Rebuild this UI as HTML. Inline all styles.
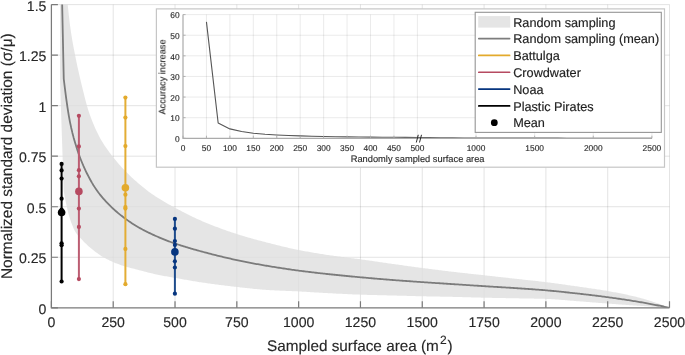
<!DOCTYPE html><html><head><meta charset="utf-8"><style>html,body{margin:0;padding:0;background:#fff;}svg{display:block;}text{font-family:"Liberation Sans",sans-serif;fill:#262626;}svg{will-change:transform;}text{text-rendering:geometricPrecision;stroke-width:0.14px;}</style></head><body>
<svg width="685" height="355" viewBox="0 0 685 355">
<defs><clipPath id="cp"><rect x="51.4" y="4.6" width="618.1" height="303.2"/></clipPath>
</defs>
<path d="M113.21 4.6V307.8 M175.02 4.6V307.8 M236.83 4.6V307.8 M298.64 4.6V307.8 M360.45 4.6V307.8 M422.26 4.6V307.8 M484.07 4.6V307.8 M545.88 4.6V307.8 M607.69 4.6V307.8 M669.5 4.6V307.8 M51.4 257.27H669.5 M51.4 206.73H669.5 M51.4 156.2H669.5 M51.4 105.67H669.5 M51.4 55.13H669.5 M51.4 4.6H669.5" stroke="rgba(38,38,38,0.125)" stroke-width="1" fill="none"/>
<g clip-path="url(#cp)"><polygon points="60.05,-702.87 63.76,-45.93 65,-28.77 66.23,-12.82 67.47,1.61 68.71,14.25 69.94,24.81 71.18,33.54 72.42,41.1 73.65,47.83 74.89,54.07 76.12,60.19 77.36,66.16 78.6,71.82 79.83,77.21 81.07,82.41 82.31,87.47 83.54,92.5 84.78,97.44 86.01,102.2 87.25,106.66 88.49,110.72 89.72,114.39 90.96,117.8 92.19,121 93.43,124.01 94.67,126.89 95.9,129.66 97.14,132.32 98.38,134.84 99.61,137.21 100.85,139.42 102.08,141.5 103.32,143.48 104.56,145.39 105.79,147.23 107.03,149 108.27,150.72 109.5,152.39 110.74,154.02 111.97,155.63 113.21,157.21 114.45,158.77 115.68,160.29 116.92,161.78 118.15,163.24 119.39,164.67 120.63,166.06 121.86,167.43 123.1,168.77 124.34,170.08 125.57,171.36 126.81,172.62 128.04,173.84 129.28,175.04 130.52,176.22 131.75,177.38 132.99,178.51 134.23,179.63 135.46,180.73 136.7,181.81 137.93,182.88 139.17,183.94 140.41,184.99 141.64,186.03 142.88,187.05 144.12,188.05 145.35,189.04 146.59,190.01 147.82,190.96 149.06,191.88 150.3,192.79 151.53,193.67 152.77,194.53 154,195.37 155.24,196.2 156.48,197.01 157.71,197.81 158.95,198.59 160.19,199.36 161.42,200.12 162.66,200.87 163.89,201.61 165.13,202.33 166.37,203.04 167.6,203.73 168.84,204.42 170.08,205.1 171.31,205.77 172.55,206.43 173.78,207.09 175.02,207.74 176.26,208.4 177.49,209.05 178.73,209.71 179.96,210.36 181.2,211.01 182.44,211.66 183.67,212.3 184.91,212.94 186.15,213.58 187.38,214.21 188.62,214.83 189.85,215.45 191.09,216.06 192.33,216.66 193.56,217.26 194.8,217.84 196.04,218.42 197.27,218.98 198.51,219.53 199.74,220.07 200.98,220.61 202.22,221.13 203.45,221.66 204.69,222.18 205.93,222.69 207.16,223.2 208.4,223.7 209.63,224.2 210.87,224.7 212.11,225.19 213.34,225.67 214.58,226.15 215.81,226.63 217.05,227.1 218.29,227.57 219.52,228.03 220.76,228.49 222,228.94 223.23,229.39 224.47,229.83 225.7,230.27 226.94,230.71 228.18,231.14 229.41,231.56 230.65,231.98 231.89,232.4 233.12,232.81 234.36,233.22 235.59,233.62 236.83,234.02 238.07,234.41 239.3,234.8 240.54,235.19 241.77,235.57 243.01,235.94 244.25,236.31 245.48,236.67 246.72,237.04 247.96,237.39 249.19,237.75 250.43,238.1 251.66,238.44 252.9,238.79 254.14,239.13 255.37,239.46 256.61,239.8 257.85,240.13 259.08,240.46 260.32,240.79 261.55,241.11 262.79,241.44 264.03,241.76 265.26,242.08 266.5,242.4 267.74,242.71 268.97,243.03 270.21,243.35 271.44,243.66 272.68,243.98 273.92,244.29 275.15,244.6 276.39,244.91 277.62,245.22 278.86,245.53 280.1,245.83 281.33,246.13 282.57,246.43 283.81,246.73 285.04,247.02 286.28,247.31 287.51,247.6 288.75,247.88 289.99,248.16 291.22,248.43 292.46,248.71 293.7,248.97 294.93,249.23 296.17,249.49 297.4,249.74 298.64,249.99 299.88,250.23 301.11,250.47 302.35,250.71 303.58,250.94 304.82,251.17 306.06,251.4 307.29,251.62 308.53,251.84 309.77,252.06 311,252.28 312.24,252.49 313.47,252.7 314.71,252.91 315.95,253.12 317.18,253.32 318.42,253.52 319.66,253.72 320.89,253.92 322.13,254.12 323.36,254.31 324.6,254.5 325.84,254.69 327.07,254.88 328.31,255.06 329.54,255.25 330.78,255.43 332.02,255.6 333.25,255.78 334.49,255.95 335.73,256.12 336.96,256.28 338.2,256.44 339.43,256.6 340.67,256.76 341.91,256.92 343.14,257.08 344.38,257.23 345.62,257.39 346.85,257.54 348.09,257.69 349.32,257.85 350.56,258 351.8,258.16 353.03,258.31 354.27,258.47 355.51,258.63 356.74,258.79 357.98,258.95 359.21,259.12 360.45,259.29 361.69,259.46 362.92,259.63 364.16,259.8 365.39,259.98 366.63,260.15 367.87,260.33 369.1,260.51 370.34,260.69 371.58,260.87 372.81,261.05 374.05,261.23 375.28,261.41 376.52,261.59 377.76,261.77 378.99,261.95 380.23,262.13 381.47,262.31 382.7,262.49 383.94,262.67 385.17,262.85 386.41,263.03 387.65,263.21 388.88,263.38 390.12,263.56 391.35,263.73 392.59,263.91 393.83,264.08 395.06,264.26 396.3,264.43 397.54,264.6 398.77,264.78 400.01,264.95 401.24,265.12 402.48,265.3 403.72,265.47 404.95,265.64 406.19,265.81 407.43,265.98 408.66,266.15 409.9,266.32 411.13,266.49 412.37,266.66 413.61,266.83 414.84,266.99 416.08,267.16 417.32,267.33 418.55,267.49 419.79,267.66 421.02,267.82 422.26,267.98 423.5,268.14 424.73,268.3 425.97,268.46 427.2,268.62 428.44,268.78 429.68,268.94 430.91,269.09 432.15,269.25 433.39,269.41 434.62,269.56 435.86,269.72 437.09,269.87 438.33,270.03 439.57,270.18 440.8,270.33 442.04,270.49 443.28,270.64 444.51,270.79 445.75,270.94 446.98,271.09 448.22,271.23 449.46,271.38 450.69,271.53 451.93,271.67 453.16,271.82 454.4,271.96 455.64,272.11 456.87,272.25 458.11,272.39 459.35,272.53 460.58,272.67 461.82,272.81 463.05,272.95 464.29,273.09 465.53,273.22 466.76,273.36 468,273.49 469.24,273.63 470.47,273.77 471.71,273.9 472.94,274.04 474.18,274.17 475.42,274.31 476.65,274.44 477.89,274.58 479.13,274.71 480.36,274.85 481.6,274.98 482.83,275.12 484.07,275.26 485.31,275.39 486.54,275.53 487.78,275.67 489.01,275.81 490.25,275.94 491.49,276.08 492.72,276.22 493.96,276.36 495.2,276.49 496.43,276.63 497.67,276.77 498.9,276.91 500.14,277.04 501.38,277.18 502.61,277.32 503.85,277.46 505.09,277.59 506.32,277.73 507.56,277.87 508.79,278.01 510.03,278.14 511.27,278.28 512.5,278.42 513.74,278.56 514.98,278.69 516.21,278.83 517.45,278.97 518.68,279.1 519.92,279.23 521.16,279.37 522.39,279.5 523.63,279.63 524.86,279.77 526.1,279.9 527.34,280.03 528.57,280.17 529.81,280.3 531.05,280.43 532.28,280.57 533.52,280.7 534.75,280.84 535.99,280.98 537.23,281.11 538.46,281.25 539.7,281.4 540.94,281.54 542.17,281.68 543.41,281.83 544.64,281.98 545.88,282.13 547.12,282.28 548.35,282.44 549.59,282.59 550.82,282.75 552.06,282.91 553.3,283.08 554.53,283.24 555.77,283.41 557.01,283.58 558.24,283.74 559.48,283.91 560.71,284.09 561.95,284.26 563.19,284.43 564.42,284.61 565.66,284.78 566.9,284.96 568.13,285.13 569.37,285.31 570.6,285.49 571.84,285.66 573.08,285.84 574.31,286.02 575.55,286.2 576.78,286.37 578.02,286.55 579.26,286.73 580.49,286.9 581.73,287.08 582.97,287.25 584.2,287.43 585.44,287.6 586.67,287.78 587.91,287.95 589.15,288.13 590.38,288.31 591.62,288.49 592.86,288.67 594.09,288.85 595.33,289.03 596.56,289.22 597.8,289.41 599.04,289.6 600.27,289.79 601.51,289.99 602.75,290.19 603.98,290.39 605.22,290.6 606.45,290.81 607.69,291.02 608.93,291.24 610.16,291.46 611.4,291.68 612.63,291.91 613.87,292.13 615.11,292.36 616.34,292.6 617.58,292.83 618.82,293.07 620.05,293.32 621.29,293.56 622.52,293.81 623.76,294.07 625,294.33 626.23,294.59 627.47,294.86 628.71,295.13 629.94,295.41 631.18,295.69 632.41,295.97 633.65,296.27 634.89,296.56 636.12,296.87 637.36,297.18 638.6,297.49 639.83,297.81 641.07,298.14 642.3,298.48 643.54,298.83 644.78,299.19 646.01,299.55 647.25,299.93 648.48,300.31 649.72,300.7 650.96,301.09 652.19,301.49 653.43,301.9 654.67,302.32 655.9,302.74 657.14,303.17 658.37,303.61 659.61,304.05 660.85,304.5 662.08,304.96 663.32,305.42 664.56,305.88 665.79,306.35 667.03,306.83 668.26,307.31 669.5,307.8 669.5,307.8 668.26,307.72 667.03,307.65 665.79,307.57 664.56,307.49 663.32,307.41 662.08,307.33 660.85,307.25 659.61,307.17 658.37,307.1 657.14,307.02 655.9,306.93 654.67,306.85 653.43,306.77 652.19,306.69 650.96,306.61 649.72,306.53 648.48,306.45 647.25,306.36 646.01,306.28 644.78,306.2 643.54,306.12 642.3,306.03 641.07,305.95 639.83,305.86 638.6,305.78 637.36,305.69 636.12,305.61 634.89,305.52 633.65,305.44 632.41,305.35 631.18,305.26 629.94,305.18 628.71,305.09 627.47,305 626.23,304.91 625,304.83 623.76,304.74 622.52,304.65 621.29,304.56 620.05,304.47 618.82,304.38 617.58,304.29 616.34,304.2 615.11,304.11 613.87,304.02 612.63,303.92 611.4,303.83 610.16,303.74 608.93,303.65 607.69,303.56 606.45,303.46 605.22,303.37 603.98,303.27 602.75,303.18 601.51,303.08 600.27,302.98 599.04,302.89 597.8,302.79 596.56,302.69 595.33,302.59 594.09,302.49 592.86,302.39 591.62,302.29 590.38,302.19 589.15,302.09 587.91,302 586.67,301.9 585.44,301.8 584.2,301.7 582.97,301.6 581.73,301.51 580.49,301.41 579.26,301.32 578.02,301.22 576.78,301.13 575.55,301.04 574.31,300.94 573.08,300.84 571.84,300.74 570.6,300.63 569.37,300.53 568.13,300.42 566.9,300.32 565.66,300.21 564.42,300.1 563.19,300 561.95,299.9 560.71,299.8 559.48,299.7 558.24,299.6 557.01,299.51 555.77,299.42 554.53,299.34 553.3,299.26 552.06,299.19 550.82,299.12 549.59,299.05 548.35,299 547.12,298.95 545.88,298.91 544.64,298.87 543.41,298.83 542.17,298.8 540.94,298.77 539.7,298.74 538.46,298.71 537.23,298.69 535.99,298.66 534.75,298.64 533.52,298.61 532.28,298.59 531.05,298.57 529.81,298.55 528.57,298.53 527.34,298.51 526.1,298.49 524.86,298.47 523.63,298.45 522.39,298.43 521.16,298.41 519.92,298.39 518.68,298.37 517.45,298.35 516.21,298.32 514.98,298.3 513.74,298.28 512.5,298.25 511.27,298.23 510.03,298.2 508.79,298.18 507.56,298.16 506.32,298.13 505.09,298.11 503.85,298.09 502.61,298.07 501.38,298.04 500.14,298.02 498.9,298 497.67,297.97 496.43,297.95 495.2,297.92 493.96,297.9 492.72,297.88 491.49,297.85 490.25,297.83 489.01,297.8 487.78,297.77 486.54,297.75 485.31,297.72 484.07,297.69 482.83,297.67 481.6,297.64 480.36,297.61 479.13,297.57 477.89,297.54 476.65,297.51 475.42,297.48 474.18,297.44 472.94,297.41 471.71,297.38 470.47,297.34 469.24,297.31 468,297.27 466.76,297.24 465.53,297.2 464.29,297.17 463.05,297.13 461.82,297.1 460.58,297.07 459.35,297.04 458.11,297 456.87,296.97 455.64,296.94 454.4,296.91 453.16,296.88 451.93,296.86 450.69,296.83 449.46,296.81 448.22,296.78 446.98,296.76 445.75,296.73 444.51,296.71 443.28,296.68 442.04,296.66 440.8,296.64 439.57,296.62 438.33,296.59 437.09,296.57 435.86,296.55 434.62,296.53 433.39,296.5 432.15,296.48 430.91,296.46 429.68,296.43 428.44,296.41 427.2,296.38 425.97,296.36 424.73,296.33 423.5,296.31 422.26,296.28 421.02,296.25 419.79,296.22 418.55,296.19 417.32,296.16 416.08,296.13 414.84,296.1 413.61,296.07 412.37,296.04 411.13,296 409.9,295.97 408.66,295.94 407.43,295.91 406.19,295.87 404.95,295.84 403.72,295.8 402.48,295.77 401.24,295.74 400.01,295.7 398.77,295.67 397.54,295.64 396.3,295.6 395.06,295.57 393.83,295.54 392.59,295.5 391.35,295.47 390.12,295.44 388.88,295.41 387.65,295.38 386.41,295.35 385.17,295.32 383.94,295.29 382.7,295.26 381.47,295.23 380.23,295.2 378.99,295.17 377.76,295.14 376.52,295.11 375.28,295.08 374.05,295.05 372.81,295.02 371.58,294.98 370.34,294.95 369.1,294.92 367.87,294.89 366.63,294.85 365.39,294.82 364.16,294.78 362.92,294.74 361.69,294.7 360.45,294.66 359.21,294.62 357.98,294.58 356.74,294.53 355.51,294.48 354.27,294.43 353.03,294.38 351.8,294.33 350.56,294.28 349.32,294.22 348.09,294.17 346.85,294.11 345.62,294.05 344.38,293.99 343.14,293.94 341.91,293.87 340.67,293.81 339.43,293.75 338.2,293.69 336.96,293.63 335.73,293.56 334.49,293.5 333.25,293.44 332.02,293.37 330.78,293.31 329.54,293.25 328.31,293.18 327.07,293.11 325.84,293.05 324.6,292.98 323.36,292.9 322.13,292.83 320.89,292.76 319.66,292.68 318.42,292.61 317.18,292.53 315.95,292.45 314.71,292.38 313.47,292.3 312.24,292.22 311,292.14 309.77,292.07 308.53,291.99 307.29,291.92 306.06,291.84 304.82,291.77 303.58,291.7 302.35,291.63 301.11,291.56 299.88,291.49 298.64,291.43 297.4,291.36 296.17,291.31 294.93,291.25 293.7,291.19 292.46,291.14 291.22,291.09 289.99,291.03 288.75,290.98 287.51,290.93 286.28,290.89 285.04,290.84 283.81,290.79 282.57,290.74 281.33,290.69 280.1,290.64 278.86,290.58 277.62,290.53 276.39,290.47 275.15,290.42 273.92,290.36 272.68,290.29 271.44,290.23 270.21,290.16 268.97,290.09 267.74,290.01 266.5,289.93 265.26,289.85 264.03,289.76 262.79,289.66 261.55,289.56 260.32,289.46 259.08,289.35 257.85,289.23 256.61,289.12 255.37,289 254.14,288.88 252.9,288.75 251.66,288.62 250.43,288.49 249.19,288.36 247.96,288.22 246.72,288.09 245.48,287.95 244.25,287.81 243.01,287.68 241.77,287.54 240.54,287.4 239.3,287.26 238.07,287.12 236.83,286.98 235.59,286.84 234.36,286.7 233.12,286.56 231.89,286.42 230.65,286.27 229.41,286.12 228.18,285.98 226.94,285.83 225.7,285.67 224.47,285.52 223.23,285.37 222,285.21 220.76,285.05 219.52,284.89 218.29,284.73 217.05,284.57 215.81,284.41 214.58,284.24 213.34,284.07 212.11,283.9 210.87,283.73 209.63,283.56 208.4,283.39 207.16,283.21 205.93,283.04 204.69,282.86 203.45,282.68 202.22,282.5 200.98,282.31 199.74,282.13 198.51,281.94 197.27,281.75 196.04,281.55 194.8,281.35 193.56,281.15 192.33,280.94 191.09,280.73 189.85,280.52 188.62,280.3 187.38,280.09 186.15,279.87 184.91,279.65 183.67,279.43 182.44,279.21 181.2,278.99 179.96,278.76 178.73,278.54 177.49,278.32 176.26,278.1 175.02,277.88 173.78,277.67 172.55,277.45 171.31,277.24 170.08,277.02 168.84,276.8 167.6,276.58 166.37,276.36 165.13,276.13 163.89,275.9 162.66,275.66 161.42,275.42 160.19,275.17 158.95,274.92 157.71,274.67 156.48,274.41 155.24,274.14 154,273.88 152.77,273.6 151.53,273.32 150.3,273.03 149.06,272.74 147.82,272.43 146.59,272.11 145.35,271.79 144.12,271.46 142.88,271.12 141.64,270.79 140.41,270.46 139.17,270.13 137.93,269.8 136.7,269.48 135.46,269.17 134.23,268.86 132.99,268.55 131.75,268.25 130.52,267.93 129.28,267.61 128.04,267.28 126.81,266.93 125.57,266.56 124.34,266.18 123.1,265.79 121.86,265.39 120.63,264.97 119.39,264.53 118.15,264.08 116.92,263.62 115.68,263.14 114.45,262.64 113.21,262.12 111.97,261.58 110.74,261.01 109.5,260.43 108.27,259.81 107.03,259.18 105.79,258.52 104.56,257.84 103.32,257.13 102.08,256.4 100.85,255.65 99.61,254.85 98.38,253.99 97.14,253.08 95.9,252.15 94.67,251.2 93.43,250.25 92.19,249.27 90.96,248.27 89.72,247.23 88.49,246.15 87.25,245.02 86.01,243.85 84.78,242.63 83.54,241.38 82.31,240.09 81.07,238.82 79.83,237.56 78.6,236.23 77.36,234.74 76.12,233.01 74.89,230.93 73.65,228.46 72.42,225.62 71.18,222.42 69.94,218.86 68.71,214.72 67.47,209.82 66.23,204.27 65,198.15 63.76,191.57 60.05,81.41" fill="#dedede" fill-opacity="0.8"/></g>
<g clip-path="url(#cp)"><polyline points="57.58,-209.66 63.76,78.99 65,89.13 66.23,98.6 67.47,107.3 68.71,115.08 69.94,121.84 71.18,127.68 72.42,132.91 73.65,137.63 74.89,141.99 76.12,146.09 77.36,149.98 78.6,153.61 79.83,157.01 81.07,160.23 82.31,163.27 83.54,166.17 84.78,168.91 86.01,171.52 87.25,174.01 88.49,176.41 89.72,178.74 90.96,180.97 92.19,183.12 93.43,185.18 94.67,187.13 95.9,188.98 97.14,190.76 98.38,192.46 99.61,194.07 100.85,195.62 102.08,197.1 103.32,198.54 104.56,199.94 105.79,201.31 107.03,202.64 108.27,203.93 109.5,205.18 110.74,206.41 111.97,207.6 113.21,208.75 114.45,209.88 115.68,210.98 116.92,212.05 118.15,213.09 119.39,214.11 120.63,215.11 121.86,216.08 123.1,217.03 124.34,217.95 125.57,218.86 126.81,219.75 128.04,220.62 129.28,221.48 130.52,222.31 131.75,223.13 132.99,223.93 134.23,224.71 135.46,225.47 136.7,226.22 137.93,226.95 139.17,227.66 140.41,228.35 141.64,229.03 142.88,229.69 144.12,230.34 145.35,230.98 146.59,231.6 147.82,232.21 149.06,232.82 150.3,233.41 151.53,234 152.77,234.58 154,235.15 155.24,235.71 156.48,236.26 157.71,236.8 158.95,237.33 160.19,237.85 161.42,238.37 162.66,238.87 163.89,239.37 165.13,239.86 166.37,240.35 167.6,240.83 168.84,241.3 170.08,241.76 171.31,242.22 172.55,242.66 173.78,243.1 175.02,243.52 176.26,243.94 177.49,244.35 178.73,244.76 179.96,245.16 181.2,245.55 182.44,245.95 183.67,246.33 184.91,246.72 186.15,247.09 187.38,247.47 188.62,247.84 189.85,248.2 191.09,248.56 192.33,248.92 193.56,249.28 194.8,249.63 196.04,249.98 197.27,250.32 198.51,250.66 199.74,251 200.98,251.34 202.22,251.67 203.45,252 204.69,252.33 205.93,252.66 207.16,252.99 208.4,253.31 209.63,253.63 210.87,253.95 212.11,254.27 213.34,254.59 214.58,254.9 215.81,255.21 217.05,255.52 218.29,255.83 219.52,256.13 220.76,256.43 222,256.73 223.23,257.02 224.47,257.32 225.7,257.61 226.94,257.9 228.18,258.18 229.41,258.46 230.65,258.74 231.89,259.02 233.12,259.29 234.36,259.56 235.59,259.83 236.83,260.1 238.07,260.36 239.3,260.62 240.54,260.88 241.77,261.13 243.01,261.38 244.25,261.63 245.48,261.88 246.72,262.13 247.96,262.37 249.19,262.61 250.43,262.85 251.66,263.09 252.9,263.32 254.14,263.55 255.37,263.78 256.61,264.01 257.85,264.23 259.08,264.46 260.32,264.68 261.55,264.9 262.79,265.11 264.03,265.33 265.26,265.54 266.5,265.75 267.74,265.96 268.97,266.17 270.21,266.37 271.44,266.57 272.68,266.78 273.92,266.98 275.15,267.17 276.39,267.37 277.62,267.56 278.86,267.76 280.1,267.95 281.33,268.14 282.57,268.33 283.81,268.51 285.04,268.7 286.28,268.88 287.51,269.06 288.75,269.24 289.99,269.42 291.22,269.59 292.46,269.77 293.7,269.94 294.93,270.11 296.17,270.28 297.4,270.44 298.64,270.61 299.88,270.77 301.11,270.93 302.35,271.09 303.58,271.25 304.82,271.4 306.06,271.56 307.29,271.71 308.53,271.86 309.77,272.01 311,272.16 312.24,272.31 313.47,272.45 314.71,272.6 315.95,272.74 317.18,272.88 318.42,273.02 319.66,273.16 320.89,273.3 322.13,273.44 323.36,273.57 324.6,273.71 325.84,273.85 327.07,273.98 328.31,274.11 329.54,274.25 330.78,274.38 332.02,274.51 333.25,274.64 334.49,274.77 335.73,274.89 336.96,275.02 338.2,275.15 339.43,275.27 340.67,275.4 341.91,275.52 343.14,275.64 344.38,275.76 345.62,275.88 346.85,276 348.09,276.12 349.32,276.24 350.56,276.36 351.8,276.48 353.03,276.59 354.27,276.71 355.51,276.82 356.74,276.94 357.98,277.05 359.21,277.16 360.45,277.28 361.69,277.39 362.92,277.5 364.16,277.61 365.39,277.72 366.63,277.83 367.87,277.94 369.1,278.05 370.34,278.16 371.58,278.27 372.81,278.38 374.05,278.48 375.28,278.59 376.52,278.7 377.76,278.8 378.99,278.9 380.23,279.01 381.47,279.11 382.7,279.21 383.94,279.31 385.17,279.41 386.41,279.51 387.65,279.61 388.88,279.71 390.12,279.81 391.35,279.91 392.59,280 393.83,280.1 395.06,280.19 396.3,280.28 397.54,280.38 398.77,280.47 400.01,280.56 401.24,280.65 402.48,280.74 403.72,280.83 404.95,280.92 406.19,281.01 407.43,281.1 408.66,281.19 409.9,281.27 411.13,281.36 412.37,281.45 413.61,281.53 414.84,281.62 416.08,281.7 417.32,281.79 418.55,281.87 419.79,281.96 421.02,282.04 422.26,282.13 423.5,282.21 424.73,282.3 425.97,282.38 427.2,282.46 428.44,282.55 429.68,282.63 430.91,282.71 432.15,282.79 433.39,282.87 434.62,282.95 435.86,283.03 437.09,283.11 438.33,283.19 439.57,283.27 440.8,283.35 442.04,283.43 443.28,283.51 444.51,283.59 445.75,283.67 446.98,283.75 448.22,283.83 449.46,283.91 450.69,283.99 451.93,284.07 453.16,284.15 454.4,284.23 455.64,284.31 456.87,284.39 458.11,284.47 459.35,284.56 460.58,284.64 461.82,284.72 463.05,284.8 464.29,284.88 465.53,284.96 466.76,285.05 468,285.13 469.24,285.21 470.47,285.29 471.71,285.37 472.94,285.45 474.18,285.53 475.42,285.61 476.65,285.69 477.89,285.77 479.13,285.85 480.36,285.93 481.6,286.01 482.83,286.09 484.07,286.17 485.31,286.25 486.54,286.33 487.78,286.4 489.01,286.48 490.25,286.56 491.49,286.63 492.72,286.71 493.96,286.78 495.2,286.86 496.43,286.93 497.67,287.01 498.9,287.08 500.14,287.16 501.38,287.23 502.61,287.31 503.85,287.38 505.09,287.46 506.32,287.54 507.56,287.61 508.79,287.69 510.03,287.77 511.27,287.85 512.5,287.93 513.74,288.01 514.98,288.09 516.21,288.17 517.45,288.26 518.68,288.34 519.92,288.42 521.16,288.5 522.39,288.59 523.63,288.67 524.86,288.75 526.1,288.84 527.34,288.92 528.57,289.01 529.81,289.09 531.05,289.18 532.28,289.27 533.52,289.36 534.75,289.45 535.99,289.54 537.23,289.63 538.46,289.72 539.7,289.82 540.94,289.91 542.17,290.01 543.41,290.11 544.64,290.21 545.88,290.32 547.12,290.42 548.35,290.53 549.59,290.64 550.82,290.75 552.06,290.87 553.3,290.98 554.53,291.1 555.77,291.22 557.01,291.34 558.24,291.47 559.48,291.59 560.71,291.72 561.95,291.85 563.19,291.97 564.42,292.1 565.66,292.24 566.9,292.37 568.13,292.5 569.37,292.63 570.6,292.77 571.84,292.9 573.08,293.04 574.31,293.18 575.55,293.31 576.78,293.45 578.02,293.59 579.26,293.72 580.49,293.86 581.73,294 582.97,294.14 584.2,294.28 585.44,294.42 586.67,294.57 587.91,294.71 589.15,294.86 590.38,295 591.62,295.15 592.86,295.3 594.09,295.45 595.33,295.6 596.56,295.75 597.8,295.91 599.04,296.06 600.27,296.22 601.51,296.38 602.75,296.54 603.98,296.7 605.22,296.86 606.45,297.02 607.69,297.19 608.93,297.35 610.16,297.52 611.4,297.69 612.63,297.86 613.87,298.03 615.11,298.21 616.34,298.38 617.58,298.56 618.82,298.74 620.05,298.92 621.29,299.1 622.52,299.29 623.76,299.47 625,299.66 626.23,299.85 627.47,300.04 628.71,300.23 629.94,300.42 631.18,300.62 632.41,300.82 633.65,301.02 634.89,301.22 636.12,301.42 637.36,301.63 638.6,301.84 639.83,302.05 641.07,302.26 642.3,302.48 643.54,302.69 644.78,302.91 646.01,303.14 647.25,303.36 648.48,303.59 649.72,303.82 650.96,304.05 652.19,304.29 653.43,304.52 654.67,304.76 655.9,305.01 657.14,305.25 658.37,305.5 659.61,305.74 660.85,305.99 662.08,306.25 663.32,306.5 664.56,306.76 665.79,307.01 667.03,307.27 668.26,307.54 669.5,307.8" fill="none" stroke="#7b7b7b" stroke-width="1.8" stroke-linejoin="round"/></g>
<path d="M51.4 4.6V307.8H669.5" stroke="#7a7a7a" stroke-width="1.25" fill="none"/>
<path d="M51.4 307.8V301.3 M113.21 307.8V301.3 M175.02 307.8V301.3 M236.83 307.8V301.3 M298.64 307.8V301.3 M360.45 307.8V301.3 M422.26 307.8V301.3 M484.07 307.8V301.3 M545.88 307.8V301.3 M607.69 307.8V301.3 M669.5 307.8V301.3 M51.4 307.8H57.9 M51.4 257.27H57.9 M51.4 206.73H57.9 M51.4 156.2H57.9 M51.4 105.67H57.9 M51.4 55.13H57.9 M51.4 4.6H57.9" stroke="#7a7a7a" stroke-width="1.2" fill="none"/>
<text x="51.4" y="327.2" font-size="14.1" text-anchor="middle" stroke="#262626">0</text>
<text x="113.21" y="327.2" font-size="14.1" text-anchor="middle" stroke="#262626">250</text>
<text x="175.02" y="327.2" font-size="14.1" text-anchor="middle" stroke="#262626">500</text>
<text x="236.83" y="327.2" font-size="14.1" text-anchor="middle" stroke="#262626">750</text>
<text x="298.64" y="327.2" font-size="14.1" text-anchor="middle" stroke="#262626">1000</text>
<text x="360.45" y="327.2" font-size="14.1" text-anchor="middle" stroke="#262626">1250</text>
<text x="422.26" y="327.2" font-size="14.1" text-anchor="middle" stroke="#262626">1500</text>
<text x="484.07" y="327.2" font-size="14.1" text-anchor="middle" stroke="#262626">1750</text>
<text x="545.88" y="327.2" font-size="14.1" text-anchor="middle" stroke="#262626">2000</text>
<text x="607.69" y="327.2" font-size="14.1" text-anchor="middle" stroke="#262626">2250</text>
<text x="669.5" y="327.2" font-size="14.1" text-anchor="middle" stroke="#262626">2500</text>
<text x="46.4" y="313.7" font-size="14.1" text-anchor="end" stroke="#262626">0</text>
<text x="46.4" y="263.17" font-size="14.1" text-anchor="end" stroke="#262626">0.25</text>
<text x="46.4" y="212.63" font-size="14.1" text-anchor="end" stroke="#262626">0.5</text>
<text x="46.4" y="162.1" font-size="14.1" text-anchor="end" stroke="#262626">0.75</text>
<text x="46.4" y="111.57" font-size="14.1" text-anchor="end" stroke="#262626">1</text>
<text x="46.4" y="61.03" font-size="14.1" text-anchor="end" stroke="#262626">1.25</text>
<text x="46.4" y="10.5" font-size="14.1" text-anchor="end" stroke="#262626">1.5</text>
<text x="267.1" y="350.8" font-size="15.3" stroke="#262626">Sampled surface area (m</text><text x="440" y="343.9" font-size="12" stroke="#262626">2</text><text x="447.4" y="350.8" font-size="15.3" stroke="#262626">)</text>
<text transform="translate(11.6 156.2) rotate(-90)" font-size="15.45" text-anchor="middle" stroke="#262626">Normalized standard deviation (σ/μ)</text>
<line x1="61.6" y1="163.9" x2="61.6" y2="281.5" stroke="#000000" stroke-width="2"/>
<circle cx="61.6" cy="163.9" r="2.1" fill="#000000"/>
<circle cx="61.6" cy="170.4" r="2.1" fill="#000000"/>
<circle cx="61.6" cy="178.6" r="2.1" fill="#000000"/>
<circle cx="61.6" cy="198.7" r="2.1" fill="#000000"/>
<circle cx="61.6" cy="209.6" r="2.1" fill="#000000"/>
<circle cx="61.6" cy="243.3" r="2.1" fill="#000000"/>
<circle cx="61.6" cy="245.2" r="2.1" fill="#000000"/>
<circle cx="61.6" cy="281.5" r="2.1" fill="#000000"/>
<circle cx="61.6" cy="212.5" r="3.8" fill="#000000"/>
<line x1="78.9" y1="115.8" x2="78.9" y2="279.1" stroke="#bc5d72" stroke-width="2"/>
<circle cx="78.9" cy="115.8" r="2.1" fill="#b64a61"/>
<circle cx="78.9" cy="146.4" r="2.1" fill="#b64a61"/>
<circle cx="78.9" cy="170.2" r="2.1" fill="#b64a61"/>
<circle cx="78.9" cy="176.3" r="2.1" fill="#b64a61"/>
<circle cx="78.9" cy="208.6" r="2.1" fill="#b64a61"/>
<circle cx="78.9" cy="226.9" r="2.1" fill="#b64a61"/>
<circle cx="78.9" cy="279.1" r="2.1" fill="#b64a61"/>
<circle cx="78.9" cy="191.4" r="3.8" fill="#b64a61"/>
<line x1="125.4" y1="97.6" x2="125.4" y2="284.2" stroke="#e3ad35" stroke-width="2"/>
<circle cx="125.4" cy="97.6" r="2.1" fill="#e3aa2c"/>
<circle cx="125.4" cy="117.6" r="2.1" fill="#e3aa2c"/>
<circle cx="125.4" cy="146.1" r="2.1" fill="#e3aa2c"/>
<circle cx="125.4" cy="194.7" r="2.1" fill="#e3aa2c"/>
<circle cx="125.4" cy="207" r="2.1" fill="#e3aa2c"/>
<circle cx="125.4" cy="208.6" r="2.1" fill="#e3aa2c"/>
<circle cx="125.4" cy="248.9" r="2.1" fill="#e3aa2c"/>
<circle cx="125.4" cy="284.2" r="2.1" fill="#e3aa2c"/>
<circle cx="125.4" cy="187.7" r="3.8" fill="#e3aa2c"/>
<line x1="174.9" y1="218.9" x2="174.9" y2="293.7" stroke="#1f4c8c" stroke-width="2"/>
<circle cx="174.9" cy="218.9" r="2.1" fill="#06357f"/>
<circle cx="174.9" cy="228.7" r="2.1" fill="#06357f"/>
<circle cx="174.9" cy="241" r="2.1" fill="#06357f"/>
<circle cx="174.9" cy="244.9" r="2.1" fill="#06357f"/>
<circle cx="174.9" cy="261.3" r="2.1" fill="#06357f"/>
<circle cx="174.9" cy="267.5" r="2.1" fill="#06357f"/>
<circle cx="174.9" cy="293.7" r="2.1" fill="#06357f"/>
<circle cx="174.9" cy="251.9" r="3.8" fill="#06357f"/>
<rect x="156.4" y="8.9" width="508.1" height="158.3" fill="#fff" stroke="#c6c6c6" stroke-width="1.2"/>
<path d="M206.44 14.6V138.3 M229.88 14.6V138.3 M253.32 14.6V138.3 M276.76 14.6V138.3 M300.2 14.6V138.3 M323.64 14.6V138.3 M347.08 14.6V138.3 M370.52 14.6V138.3 M393.96 14.6V138.3 M417.4 14.6V138.3 M476.02 14.6V138.3 M534.65 14.6V138.3 M593.27 14.6V138.3 M651.9 14.6V138.3 M183 117.68H651.9 M183 97.07H651.9 M183 76.45H651.9 M183 55.83H651.9 M183 35.22H651.9 M183 14.6H651.9" stroke="rgba(38,38,38,0.12)" stroke-width="0.8" fill="none"/>
<polyline points="206.44,21.82 218.16,123.04 229.88,128.9 241.6,131.57 253.32,133.18 265.04,134.24 276.76,134.98 288.48,135.51 300.2,135.92 311.92,136.24 323.64,136.49 335.36,136.7 347.08,136.86 358.8,137.01 370.52,137.12 382.24,137.23 393.96,137.32 405.68,137.39 417.4,137.46 429.12,137.66 440.85,137.79 452.57,137.88 464.3,137.95 476.02,138 487.75,138.04 499.47,138.07 511.2,138.1 522.92,138.12 534.65,138.14 546.38,138.15 558.1,138.17 569.83,138.18 581.55,138.19 593.27,138.19 605,138.2 616.72,138.21 628.45,138.21 640.17,138.22 651.9,138.22" fill="none" stroke="#555" stroke-width="1.1" stroke-linejoin="round"/>
<path d="M183 14.6V138.3H651.9" stroke="#ababab" stroke-width="1.2" fill="none"/>
<path d="M183 138.3V135.7 M206.44 138.3V135.7 M229.88 138.3V135.7 M253.32 138.3V135.7 M276.76 138.3V135.7 M300.2 138.3V135.7 M323.64 138.3V135.7 M347.08 138.3V135.7 M370.52 138.3V135.7 M393.96 138.3V135.7 M417.4 138.3V135.7 M476.02 138.3V135.7 M534.65 138.3V135.7 M593.27 138.3V135.7 M651.9 138.3V135.7 M183 138.3H185.6 M183 117.68H185.6 M183 97.07H185.6 M183 76.45H185.6 M183 55.83H185.6 M183 35.22H185.6 M183 14.6H185.6" stroke="#ababab" stroke-width="0.9" fill="none"/>
<text x="183" y="151" font-size="8.4" text-anchor="middle" fill="#333" stroke="#333">0</text>
<text x="206.44" y="151" font-size="8.4" text-anchor="middle" fill="#333" stroke="#333">50</text>
<text x="229.88" y="151" font-size="8.4" text-anchor="middle" fill="#333" stroke="#333">100</text>
<text x="253.32" y="151" font-size="8.4" text-anchor="middle" fill="#333" stroke="#333">150</text>
<text x="276.76" y="151" font-size="8.4" text-anchor="middle" fill="#333" stroke="#333">200</text>
<text x="300.2" y="151" font-size="8.4" text-anchor="middle" fill="#333" stroke="#333">250</text>
<text x="323.64" y="151" font-size="8.4" text-anchor="middle" fill="#333" stroke="#333">300</text>
<text x="347.08" y="151" font-size="8.4" text-anchor="middle" fill="#333" stroke="#333">350</text>
<text x="370.52" y="151" font-size="8.4" text-anchor="middle" fill="#333" stroke="#333">400</text>
<text x="393.96" y="151" font-size="8.4" text-anchor="middle" fill="#333" stroke="#333">450</text>
<text x="417.4" y="151" font-size="8.4" text-anchor="middle" fill="#333" stroke="#333">500</text>
<text x="476.02" y="151" font-size="8.4" text-anchor="middle" fill="#333" stroke="#333">1000</text>
<text x="534.65" y="151" font-size="8.4" text-anchor="middle" fill="#333" stroke="#333">1500</text>
<text x="593.27" y="151" font-size="8.4" text-anchor="middle" fill="#333" stroke="#333">2000</text>
<text x="651.9" y="151" font-size="8.4" text-anchor="middle" fill="#333" stroke="#333">2500</text>
<text x="179.7" y="142" font-size="8.4" text-anchor="end" fill="#333" stroke="#333">0</text>
<text x="179.7" y="121.38" font-size="8.4" text-anchor="end" fill="#333" stroke="#333">10</text>
<text x="179.7" y="100.77" font-size="8.4" text-anchor="end" fill="#333" stroke="#333">20</text>
<text x="179.7" y="80.15" font-size="8.4" text-anchor="end" fill="#333" stroke="#333">30</text>
<text x="179.7" y="59.53" font-size="8.4" text-anchor="end" fill="#333" stroke="#333">40</text>
<text x="179.7" y="38.92" font-size="8.4" text-anchor="end" fill="#333" stroke="#333">50</text>
<text x="179.7" y="18.3" font-size="8.4" text-anchor="end" fill="#333" stroke="#333">60</text>
<path d="M416.3 142.5L418.3 134.8M419.5 142.5L421.5 134.8" stroke="#2a2a2a" stroke-width="1" fill="none"/>
<text x="417.6" y="162" font-size="9.3" text-anchor="middle" fill="#333" stroke="#333">Randomly sampled surface area</text>
<text transform="translate(165.4 77) rotate(-90)" font-size="9.2" text-anchor="middle" fill="#333" stroke="#333">Accuracy increase</text>
<rect x="475.2" y="12.3" width="186.1" height="120.1" fill="#fff" stroke="#959595" stroke-width="1.1"/>
<rect x="478.2" y="16.1" width="32" height="11.5" fill="#e5e5e5"/>
<line x1="478.8" y1="38.62" x2="509.6" y2="38.62" stroke="#7d7d7d" stroke-width="1.7" stroke-linecap="round"/>
<line x1="478.8" y1="55.44" x2="509.6" y2="55.44" stroke="#e3aa2c" stroke-width="1.7" stroke-linecap="round"/>
<line x1="478.8" y1="72.26" x2="509.6" y2="72.26" stroke="#b64a61" stroke-width="1.7" stroke-linecap="round"/>
<line x1="478.8" y1="89.08" x2="509.6" y2="89.08" stroke="#06357f" stroke-width="1.7" stroke-linecap="round"/>
<line x1="478.8" y1="105.9" x2="509.6" y2="105.9" stroke="#000000" stroke-width="1.7" stroke-linecap="round"/>
<circle cx="494.3" cy="122.72" r="3.4" fill="#000"/>
<text x="513.2" y="26.5" font-size="12.7" fill="#000" stroke="#000">Random sampling</text>
<text x="513.2" y="43.32" font-size="12.7" fill="#000" stroke="#000">Random sampling (mean)</text>
<text x="513.2" y="60.14" font-size="12.7" fill="#000" stroke="#000">Battulga</text>
<text x="513.2" y="76.96" font-size="12.7" fill="#000" stroke="#000">Crowdwater</text>
<text x="513.2" y="93.78" font-size="12.7" fill="#000" stroke="#000">Noaa</text>
<text x="513.2" y="110.6" font-size="12.7" fill="#000" stroke="#000">Plastic Pirates</text>
<text x="513.2" y="127.42" font-size="12.7" fill="#000" stroke="#000">Mean</text>
</svg></body></html>
